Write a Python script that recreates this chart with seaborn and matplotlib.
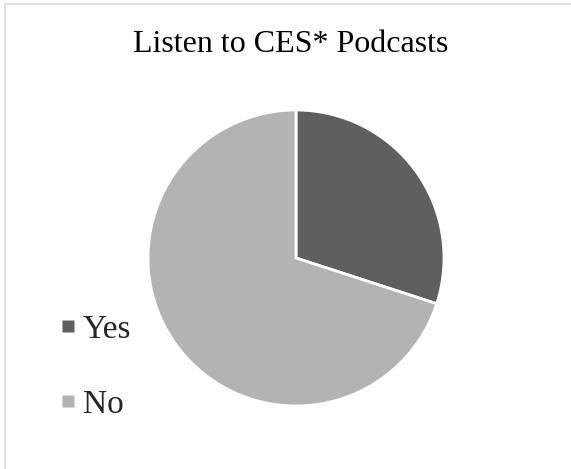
import matplotlib
matplotlib.use("Agg")
import matplotlib.pyplot as plt
from matplotlib.patches import Rectangle
from matplotlib.lines import Line2D
import seaborn as sns

# Survey responses: share of respondents who listen to CES podcasts
categories = ["Yes", "No"]
shares = [30, 70]
title = "Listen to CES* Podcasts"

sns.set_theme(style="white")
plt.rcParams["font.family"] = ["Liberation Serif", "DejaVu Serif"]

colors = ["#5f5f5f", "#b3b3b3"]

W, H = 571, 469
fig = plt.figure(figsize=(W / 100, H / 100), dpi=100)
fig.patch.set_facecolor("white")

# light chart-area border
fig.add_artist(Rectangle((5 / W, -0.05), 1.1, (H - 4.5) / H + 0.05,
                         transform=fig.transFigure, fill=False,
                         edgecolor="#d9d9d9", linewidth=1.2))

cx, cy, r = 296, 258, 148
ax = fig.add_axes([(cx - r) / W, (H - cy - r) / H, 2 * r / W, 2 * r / H])
ax.pie(shares, colors=colors, startangle=90, counterclock=False,
       wedgeprops=dict(edgecolor="white", linewidth=2))
ax.set_xlim(-1, 1)
ax.set_ylim(-1, 1)
ax.set_aspect("equal")
ax.axis("off")

fig.text(291 / W, 1 - 44 / H, title, ha="center", va="center",
         fontsize=23, color="#000000")

handles = [Line2D([], [], marker="s", linestyle="none", markersize=8,
                  markerfacecolor=c, markeredgecolor="none") for c in colors]
leg = fig.legend(handles, categories, loc="center left",
                 bbox_to_anchor=(62 / W, 1 - 367 / H),
                 frameon=False, fontsize=24, handlelength=0.33,
                 handletextpad=0.3, labelspacing=1.35,
                 borderpad=0, borderaxespad=0)

fig.savefig("out.png", dpi=100, facecolor="white")
